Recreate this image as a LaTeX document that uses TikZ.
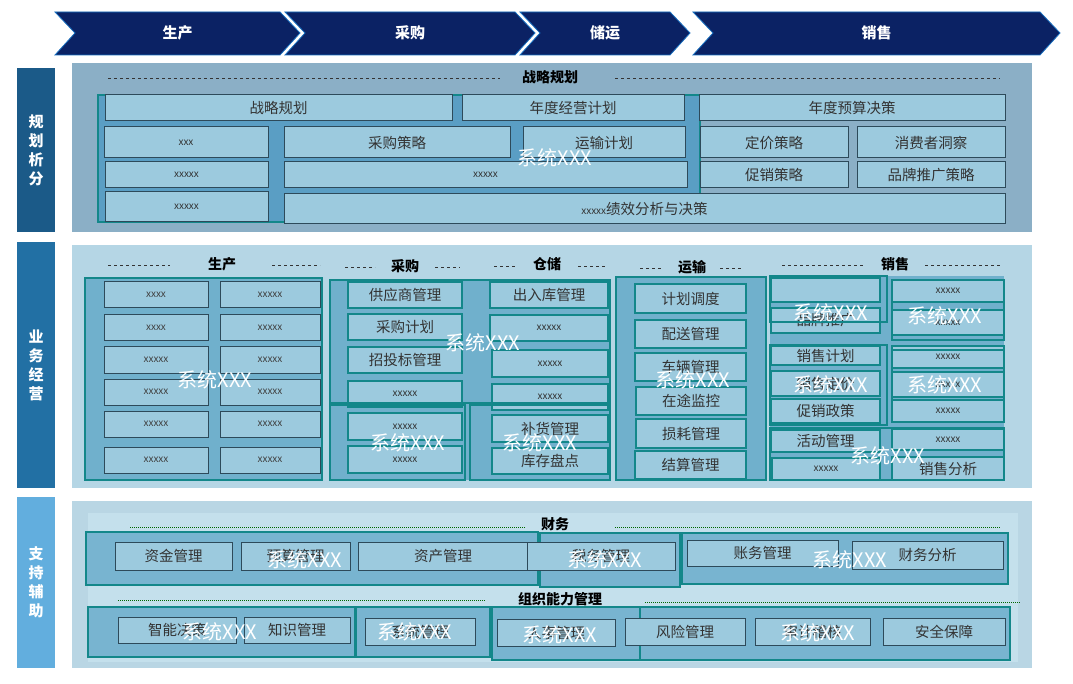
\documentclass[tikz,border=0pt]{standalone}
\usepackage{fontspec}
\setmainfont{Noto Sans CJK SC}
\definecolor{navy}{HTML}{0B2264}
\definecolor{boxfill}{HTML}{9CCADE}
\definecolor{boxline}{HTML}{2D4A5A}
\definecolor{tealb}{HTML}{13878A}
\definecolor{sideA}{RGB}{27,90,136}
\definecolor{sideB}{RGB}{34,112,164}
\definecolor{sideC}{RGB}{98,174,222}
\definecolor{secA}{RGB}{139,175,198}
\definecolor{secB}{RGB}{181,214,229}
\definecolor{secC}{RGB}{185,214,228}
\definecolor{secCi}{RGB}{196,224,236}
\definecolor{grpA}{RGB}{90,158,196}
\definecolor{grpB}{RGB}{112,176,204}
\definecolor{grpC}{RGB}{120,180,208}
\begin{document}
\begin{tikzpicture}[x=1pt,y=-1pt,
 chev/.style={fill=navy,draw=cyan!50!blue,line width=0.8pt},
 side/.style={text=white,font=\fontsize{15}{19}\selectfont\bfseries,align=center},
 boxs/.style={fill=boxfill,draw=boxline,line width=1pt},
 boxt/.style={fill=boxfill,draw=tealb,line width=1.2pt},
 sys/.style={draw=tealb,line width=1.6pt},
 txt/.style={font=\fontsize{14.5}{14.5}\selectfont,text=black!80},
 xs/.style={font=\fontsize{10}{10}\selectfont,text=black!75},
 syslab/.style={text=white,font=\fontsize{20}{20}\selectfont},
 head/.style={font=\fontsize{14}{14}\selectfont\bfseries},
 dl/.style={dashed,gray!40!black,line width=0.6pt},
 gl/.style={densely dotted,green!40!black,line width=1pt}]
\newcommand\bx[6][boxs]{\draw[#1] (#2,#3) rectangle (#4,#5); \node[txt] at ({(#2+#4)/2},{(#3+#5)/2}) {#6};}
\useasboundingbox[fill=white] (0,0) rectangle (1073,684);
% chevrons
\foreach \a/\b/\t in {55/280/生产,285/515/采购,520/670/储运,693/1040/销售}{
 \draw[chev] (\a,12) -- (\b,12) -- (\b+20,33) -- (\b,55) -- (\a,55) -- (\a+20,33) -- cycle;
 \node[text=white,font=\fontsize{15}{15}\selectfont\bfseries] at ({(\a+\b)/2+10},33) {\t};}
% side labels
\fill[sideA] (17,68) rectangle (55,232);
\node[side] at (36,150) {规\\划\\析\\分};
\fill[sideB] (17,242) rectangle (55,488);
\node[side] at (36,365) {业\\务\\经\\营};
\fill[sideC] (17,497) rectangle (55,668);
\node[side] at (36,582) {支\\持\\辅\\助};
% section 1
\fill[secA] (72,63) rectangle (1032,232);
\node[head] at (550,77) {战略规划};
\draw[dl] (108,78) -- (500,78); \draw[dl] (615,78) -- (1000,78);
\draw[sys,fill=grpA] (98,95) rectangle (700,222);
\bx{105}{95}{452}{121}{战略规划}
\bx{462}{95}{684}{121}{年度经营计划}
\bx{699}{95}{1005}{121}{年度预算决策}
\bx{104}{127}{268}{158}{\fontsize{10}{10}\selectfont xxx}
\bx{284}{127}{510}{158}{采购策略}
\bx{523}{127}{685}{158}{运输计划}
\bx{700}{127}{848}{158}{定价策略}
\bx{857}{127}{1005}{158}{消费者洞察}
\bx{105}{162}{268}{188}{\fontsize{10}{10}\selectfont xxxxx}
\bx{284}{162}{687}{188}{\fontsize{10}{10}\selectfont xxxxx}
\bx{700}{162}{848}{188}{促销策略}
\bx{857}{162}{1005}{188}{品牌推广策略}
\bx{105}{192}{268}{222}{\fontsize{10}{10}\selectfont xxxxx}
\bx{284}{194}{1005}{224}{{\fontsize{10}{10}\selectfont xxxxx}绩效分析与决策}
\node[syslab] at (555,158) {系统XXX};
% section 2
\fill[secB] (72,245) rectangle (1032,488);
\node[head] at (222,264) {生产}; \draw[dl] (108,265) -- (170,265); \draw[dl] (272,265) -- (320,265);
\node[head] at (405,266) {采购}; \draw[dl] (345,267) -- (375,267); \draw[dl] (435,267) -- (460,267);
\node[head] at (547,264) {仓储}; \draw[dl] (494,266) -- (515,266); \draw[dl] (578,266) -- (605,266);
\node[head] at (692,267) {运输}; \draw[dl] (640,268) -- (662,268); \draw[dl] (720,268) -- (742,268);
\node[head] at (895,264) {销售}; \draw[dl] (782,265) -- (865,265); \draw[dl] (925,265) -- (1000,265);
% production
\draw[sys,fill=grpB] (85,278) rectangle (322,480);
\foreach \ya/\yb/\t in {282/308/xxxx,315/341/xxxx,347/373/xxxxx,379/405/xxxxx,411/437/xxxxx,447/473/xxxxx}{
 \draw[boxs] (104,\ya) rectangle (208,\yb); \node[xs] at (156,{(\ya+\yb)/2}) {\t};
 \draw[boxs] (220,\ya) rectangle (320,\yb); \node[xs] at (270,{(\ya+\yb)/2}) {xxxxx};}
\node[syslab] at (215,380) {系统XXX};
% purchase + warehouse
\fill[grpB] (330,280) rectangle (610,480);
\bx[boxt]{348}{282}{462}{308}{供应商管理}
\bx[boxt]{348}{314}{462}{340}{采购计划}
\bx[boxt]{348}{347}{462}{373}{招投标管理}
\bx[boxt]{348}{381}{462}{407}{\fontsize{10}{10}\selectfont xxxxx}
\bx[boxt]{348}{413}{462}{440}{\fontsize{10}{10}\selectfont xxxxx}
\bx[boxt]{348}{446}{462}{473}{\fontsize{10}{10}\selectfont xxxxx}
\bx[boxt]{490}{282}{608}{308}{出入库管理}
\bx[boxt]{490}{315}{608}{341}{\fontsize{10}{10}\selectfont xxxxx}
\bx[boxt]{492}{350}{608}{377}{\fontsize{10}{10}\selectfont xxxxx}
\bx[boxt]{492}{384}{608}{410}{\fontsize{10}{10}\selectfont xxxxx}
\bx[boxt]{492}{415}{608}{442}{补货管理}
\bx[boxt]{492}{448}{608}{474}{库存盘点}
\draw[sys] (330,280) rectangle (610,403);
\draw[sys] (330,405) rectangle (465,480);
\draw[sys] (470,405) rectangle (610,480);
\node[syslab] at (483,343) {系统XXX};
\node[syslab] at (408,443) {系统XXX};
\node[syslab] at (540,443) {系统XXX};
% transport
\draw[sys,fill=grpB] (616,277) rectangle (766,480);
\bx[boxt]{635}{284}{746}{313}{计划调度}
\bx[boxt]{635}{320}{746}{348}{配送管理}
\bx[boxt]{635}{353}{746}{381}{车辆管理}
\bx[boxt]{636}{387}{746}{415}{在途监控}
\bx[boxt]{636}{419}{746}{448}{损耗管理}
\bx[boxt]{635}{451}{746}{479}{结算管理}
\node[syslab] at (693,380) {系统XXX};
% sales
\fill[grpB] (770,276) rectangle (1004,480);
\bx[boxt]{771}{278}{880}{302}{}
\bx[boxt]{771}{308}{880}{333}{品牌推广}
\bx[boxt]{771}{346}{880}{365}{销售计划}
\bx[boxt]{771}{371}{880}{396}{销售定价}
\bx[boxt]{771}{399}{880}{423}{促销政策}
\bx[boxt]{771}{430}{880}{452}{活动管理}
\bx[boxt]{772}{458}{880}{480}{\fontsize{10}{10}\selectfont xxxxx}
\foreach \ya/\yb in {280/302,310/335,346/368,372/397,400/422,429/450}{
 \bx[boxt]{892}{\ya}{1004}{\yb}{\fontsize{10}{10}\selectfont xxxxx}}
\bx[boxt]{892}{457}{1004}{480}{销售分析}
\draw[sys] (770,276) rectangle (887,322);
\draw[sys] (892,280) rectangle (1004,340);
\draw[sys] (770,345) rectangle (887,425);
\draw[sys] (892,350) rectangle (1004,422);
\draw[sys] (770,428) rectangle (1004,480);
\node[syslab] at (831,313) {系统XXX};
\node[syslab] at (945,316) {系统XXX};
\node[syslab] at (831,385) {系统XXX};
\node[syslab] at (945,385) {系统XXX};
\node[syslab] at (888,456) {系统XXX};
% section 3
\fill[secC] (72,501) rectangle (1032,668);
\fill[secCi] (88,513) rectangle (1018,662);
\node[head] at (555,524) {财务};
\draw[gl] (130,527) -- (525,527); \draw[gl] (615,527) -- (1000,527);
\draw[sys,fill=grpC] (86,532) rectangle (538,585);
\draw[sys,fill=grpC] (540,533) rectangle (680,587);
\draw[sys,fill=grpC] (682,533) rectangle (1008,584);
\bx{115}{542}{232}{570}{资金管理}
\bx{241}{542}{350}{570}{预算管理}
\bx{358}{542}{528}{570}{资产管理}
\bx{527}{542}{675}{570}{税务管理}
\bx{687}{540}{838}{566}{账务管理}
\bx{852}{541}{1003}{569}{财务分析}
\node[syslab] at (305,560) {系统XXX};
\node[syslab] at (605,560) {系统XXX};
\node[syslab] at (850,560) {系统XXX};
\node[head] at (560,599) {组织能力管理};
\draw[gl] (118,600) -- (485,600); \draw[gl] (645,602) -- (1020,602);
\draw[sys,fill=grpC] (88,607) rectangle (355,657);
\draw[sys,fill=grpC] (356,607) rectangle (490,657);
\draw[sys,fill=grpC] (492,607) rectangle (640,660);
\draw[sys,fill=grpC] (640,607) rectangle (1010,660);
\bx{118}{617}{236}{643}{智能决策}
\bx{244}{617}{350}{643}{知识管理}
\bx{365}{618}{475}{645}{系统管理}
\bx{497}{619}{615}{646}{人事管理}
\bx{625}{618}{745}{645}{风险管理}
\bx{755}{618}{870}{645}{审计稽核}
\bx{883}{618}{1005}{645}{安全保障}
\node[syslab] at (220,632) {系统XXX};
\node[syslab] at (415,632) {系统XXX};
\node[syslab] at (560,635) {系统XXX};
\node[syslab] at (818,633) {系统XXX};
\end{tikzpicture}
\end{document}
